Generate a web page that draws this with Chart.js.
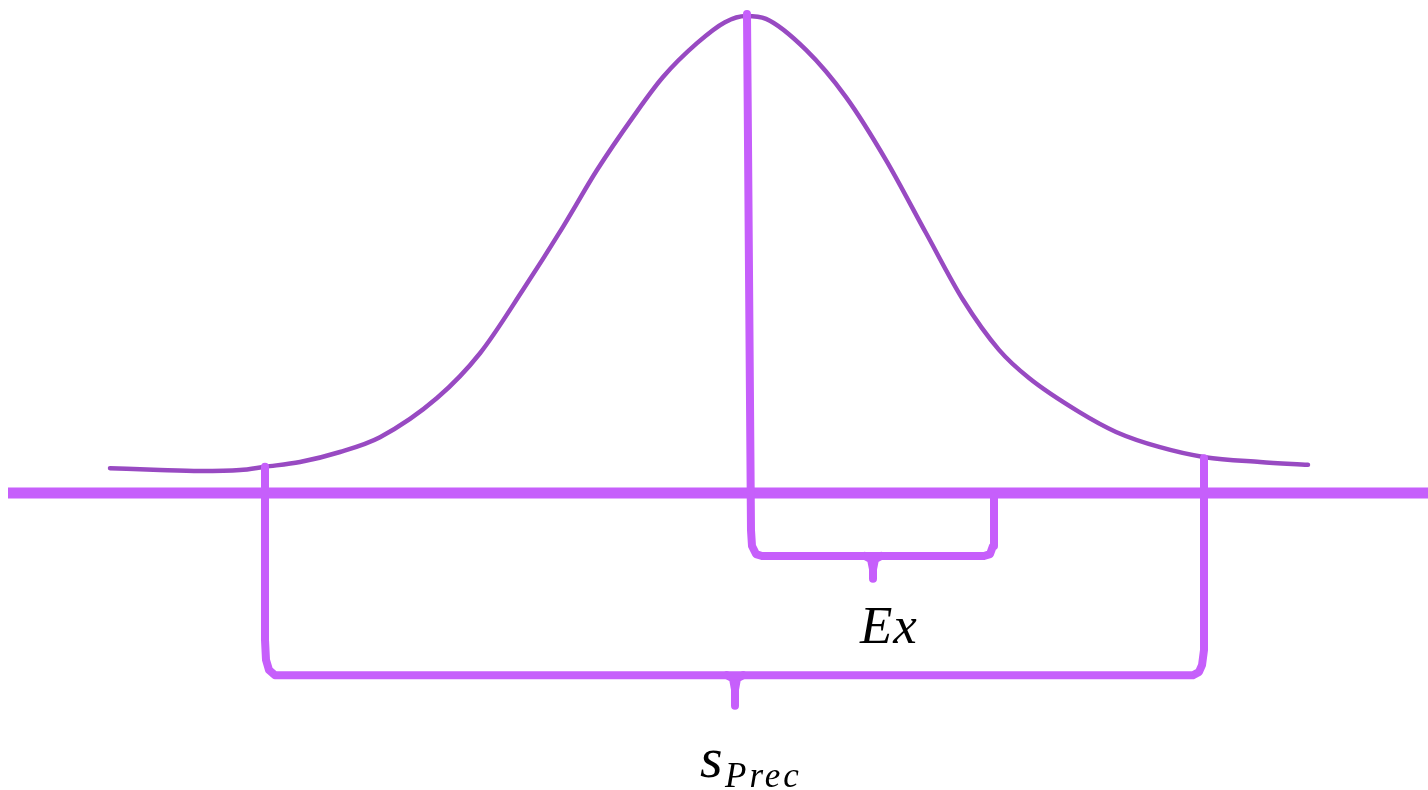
<!DOCTYPE html>
<html>
<head>
<meta charset="utf-8">
<script src="https://cdn.jsdelivr.net/npm/chart.js@4.4.1/dist/chart.umd.min.js"></script>
<style>
  html, body { margin: 0; padding: 0; background: #ffffff; }
  #wrap { width: 1428px; height: 790px; position: relative; }
</style>
</head>
<body>
<div id="wrap"><canvas id="chart"></canvas></div>
<script>
// Courbe de distribution (x en écarts arbitraires, y = densité relative, pic = 1)
const curveX = [-6.36, -5.86, -5.46, -5.06, -4.81, -4.46, -4.06, -3.66, -3.09, -2.66, -2.23, -1.83, -1.49, -1.13, -0.83, -0.49, -0.21, 0, 0.20, 0.60, 1.00, 1.40, 1.80, 2.17, 2.53, 2.83, 3.33, 3.70, 4.14, 4.59, 5.14, 5.62];
const curveY = [0.052, 0.048, 0.046, 0.048, 0.055, 0.065, 0.086, 0.117, 0.199, 0.293, 0.426, 0.558, 0.677, 0.788, 0.872, 0.943, 0.987, 1.0, 0.994, 0.929, 0.830, 0.698, 0.545, 0.405, 0.300, 0.241, 0.170, 0.128, 0.096, 0.075, 0.065, 0.059];

// Axe horizontal
const axisX = [-7.38, 6.82];
const axisY = [0, 0];

// Ligne du pic + accolade "Ex"
const exBraceX = [0.01, 0.05, 0.06, 0.10, 0.16, 2.38, 2.44, 2.47, 2.48, 2.48];
const exBraceY = [1.004, -0.078, -0.111, -0.128, -0.132, -0.132, -0.128, -0.111, -0.088, -0.008];
const exTipX = [1.19, 1.25, 1.27, 1.27, 1.27, 1.29, 1.35];
const exTipY = [-0.132, -0.139, -0.160, -0.180, -0.160, -0.139, -0.132];

// Accolade "s_Prec"
const precBraceX = [-4.81, -4.81, -4.80, -4.77, -4.71, 4.47, 4.53, 4.56, 4.58, 4.58];
const precBraceY = [0.055, -0.308, -0.350, -0.371, -0.382, -0.382, -0.375, -0.361, -0.329, 0.073];
const precTipX = [-0.19, -0.13, -0.11, -0.11, -0.11, -0.09, -0.03];
const precTipY = [-0.382, -0.389, -0.412, -0.446, -0.412, -0.389, -0.382];

// Étiquettes
const labelTexts = ['Ex', 's', 'Prec'];
const labelX = [1.14, -0.46, -0.21];
const labelY = [-0.314, -0.595, -0.616];
const labelSizes = [53, 58, 35];

const lineColor = '#c65ffb';
const curveColor = '#984ac2';

function toPoints(xs, ys) {
    return xs.map((x, i) => ({ x: x, y: ys[i] }));
}

function segment(xs, ys, color, width) {
    return {
        data: toPoints(xs, ys),
        borderColor: color,
        borderWidth: width,
        pointRadius: 0,
        tension: 0,
        borderJoinStyle: 'round',
        borderCapStyle: 'round',
        fill: false
    };
}

// Plugin pour dessiner les étiquettes mathématiques
const labelPlugin = {
    id: 'mathLabels',
    afterDatasetsDraw(chart) {
        const { ctx, scales } = chart;
        ctx.save();
        ctx.fillStyle = '#000000';
        ctx.textAlign = 'left';
        ctx.textBaseline = 'alphabetic';
        labelTexts.forEach((text, i) => {
            ctx.font = 'italic ' + labelSizes[i] + 'px "Liberation Serif", serif';
            ctx.letterSpacing = (text === 'Prec') ? '3px' : '1px';
            ctx.fillText(text, scales.x.getPixelForValue(labelX[i]), scales.y.getPixelForValue(labelY[i]));
        });
        ctx.restore();
    }
};

new Chart(document.getElementById('chart'), {
    type: 'line',
    data: {
        datasets: [
            segment(exBraceX, exBraceY, lineColor, 8),
            segment(exTipX, exTipY, lineColor, 8),
            segment(precBraceX, precBraceY, lineColor, 8),
            segment(precTipX, precTipY, lineColor, 8),
            Object.assign(segment(axisX, axisY, lineColor, 11), { borderCapStyle: 'butt' }),
            Object.assign(segment(curveX, curveY, curveColor, 4.5), { cubicInterpolationMode: 'monotone' })
        ]
    },
    options: {
        responsive: true,
        maintainAspectRatio: false,
        animation: false,
        events: [],
        layout: { padding: 0 },
        scales: {
            x: { type: 'linear', min: -7.46, max: 6.82, display: false },
            y: { type: 'linear', min: -0.6226, max: 1.0335, display: false }
        },
        plugins: {
            legend: { display: false },
            tooltip: { enabled: false }
        }
    },
    plugins: [labelPlugin]
});
</script>
</body>
</html>
